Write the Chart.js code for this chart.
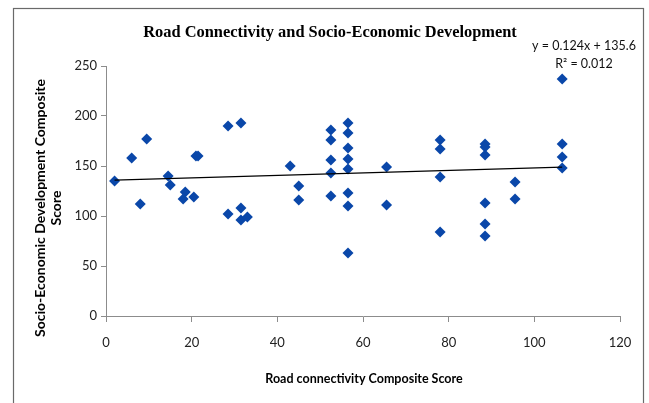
<!DOCTYPE html>
<html>
<head>
<meta charset="utf-8">
<script src="https://cdn.jsdelivr.net/npm/chart.js@4/dist/chart.umd.min.js"></script>
<style>
  html, body { margin: 0; padding: 0; background: #ffffff; }
  #wrap { width: 649px; height: 403px; position: relative; }
</style>
</head>
<body>
<div id="wrap"><canvas id="chart" width="649" height="403"></canvas></div>
<script>
// Road connectivity composite score (x) vs socio-economic development composite score (y)
const roadScore = [
  2, 6, 8, 9.5, 14.5, 15, 18.5, 18, 20.5, 21, 21.5,
  28.5, 31.5, 28.5, 31.5, 31.5, 33,
  43, 45, 45,
  52.5, 52.5, 52.5, 52.5, 52.5,
  56.5, 56.5, 56.5, 56.5, 56.5, 56.5, 56.5, 56.5,
  65.5, 65.5,
  78, 78, 78, 78,
  88.5, 88.5, 88.5, 88.5, 88.5, 88.5,
  95.5, 95.5,
  106.5, 106.5, 106.5, 106.5
];
const devScore = [
  135, 158, 112, 177, 140, 131, 124, 117, 119, 160, 160,
  190, 193, 102, 108, 96, 99,
  150, 130, 116,
  186, 176, 156, 143, 120,
  193, 183, 168, 157, 147, 123, 110, 63,
  149, 111,
  176, 167, 139, 84,
  172, 169, 161, 113, 92, 80,
  134, 117,
  237, 172, 159, 148
];

// Linear trend as reported in the chart label
const trendSlope = [0.124];
const trendIntercept = [135.6];
const trendR2 = [0.012];

const xTicks = [0, 20, 40, 60, 80, 100, 120];
const yTicks = [0, 50, 100, 150, 200, 250];

const chartTitle = 'Road Connectivity and Socio-Economic Development';
const xTitle = 'Road connectivity Composite Score';
const yTitle = ['Socio-Economic Development Composite', 'Score'];

const points = roadScore.map((x, i) => ({ x: x, y: devScore[i] }));
const xMin = Math.min(...roadScore);
const xMax = Math.max(...roadScore);
const trendPoints = [xMin, xMax].map(x => ({ x: x, y: trendSlope[0] * x + trendIntercept[0] }));

const textFont = 'Lato, "Open Sans", sans-serif';

// Frame, titles and trend equation drawn on the canvas
const decorations = {
  id: 'decorations',
  beforeDraw(chart) {
    const ctx = chart.ctx;
    ctx.save();
    ctx.fillStyle = '#ffffff';
    ctx.fillRect(0, 0, chart.width, chart.height);
    ctx.strokeStyle = '#6a6a6a';
    ctx.lineWidth = 1.2;
    ctx.strokeRect(13.5, 8.5, 630, 410);
    ctx.restore();
  },
  afterDraw(chart) {
    const ctx = chart.ctx;
    ctx.save();
    ctx.fillStyle = '#000000';
    ctx.textAlign = 'center';
    ctx.textBaseline = 'middle';

    // slightly condensed serif heading
    ctx.save();
    ctx.translate(330, 33);
    ctx.scale(0.965, 1);
    ctx.font = 'bold 17px "Liberation Serif", serif';
    ctx.fillText(chartTitle, 0, 0);
    ctx.restore();

    ctx.font = '12.5px ' + textFont;
    ctx.fillStyle = '#111111';
    ctx.fillText('y = ' + trendSlope[0] + 'x + ' + trendIntercept[0], 584, 46);
    ctx.fillText('R\u00B2 = ' + trendR2[0].toFixed(3), 584, 64);

    ctx.fillStyle = '#000000';
    ctx.font = 'bold 12.5px ' + textFont;
    ctx.fillText(xTitle, 364, 379);

    ctx.font = 'bold 14px ' + textFont;
    ctx.translate(48, 208);
    ctx.rotate(-Math.PI / 2);
    ctx.fillText(yTitle[0], 0, -8);
    ctx.fillText(yTitle[1], 0, 8);
    ctx.restore();
  }
};

new Chart(document.getElementById('chart'), {
  type: 'scatter',
  data: {
    datasets: [
      {
        label: 'Composite scores',
        data: points,
        pointStyle: 'rectRot',
        pointRadius: 5.5,
        pointHoverRadius: 5.5,
        backgroundColor: '#0a47a9',
        borderColor: '#0a47a9',
        borderWidth: 0,
        order: 2
      },
      {
        label: 'Linear trend',
        type: 'line',
        data: trendPoints,
        borderColor: '#000000',
        borderWidth: 1.2,
        pointRadius: 0,
        fill: false,
        order: 1
      }
    ]
  },
  options: {
    responsive: false,
    animation: false,
    events: [],
    layout: { padding: { top: 66, right: 29, left: 0, bottom: 0 } },
    plugins: {
      legend: { display: false },
      title: { display: false },
      tooltip: { enabled: false }
    },
    scales: {
      x: {
        type: 'linear',
        min: 0,
        max: 120,
        afterBuildTicks(scale) { scale.ticks = xTicks.map(v => ({ value: v })); },
        afterFit(scale) { scale.height = 87; },
        grid: { drawOnChartArea: false, drawTicks: true, tickLength: 6, color: '#8c8c8c' },
        border: { display: true, color: '#8c8c8c', width: 1 },
        ticks: { color: '#222222', font: { family: textFont, size: 13 }, padding: 13 }
      },
      y: {
        type: 'linear',
        min: 0,
        max: 250,
        afterBuildTicks(scale) { scale.ticks = yTicks.map(v => ({ value: v })); },
        afterFit(scale) { scale.width = 106; },
        grid: { drawOnChartArea: false, drawTicks: true, tickLength: 5, color: '#8c8c8c' },
        border: { display: true, color: '#8c8c8c', width: 1 },
        ticks: { color: '#222222', font: { family: textFont, size: 13 }, padding: 4 }
      }
    }
  },
  plugins: [decorations]
});
</script>
</body>
</html>
